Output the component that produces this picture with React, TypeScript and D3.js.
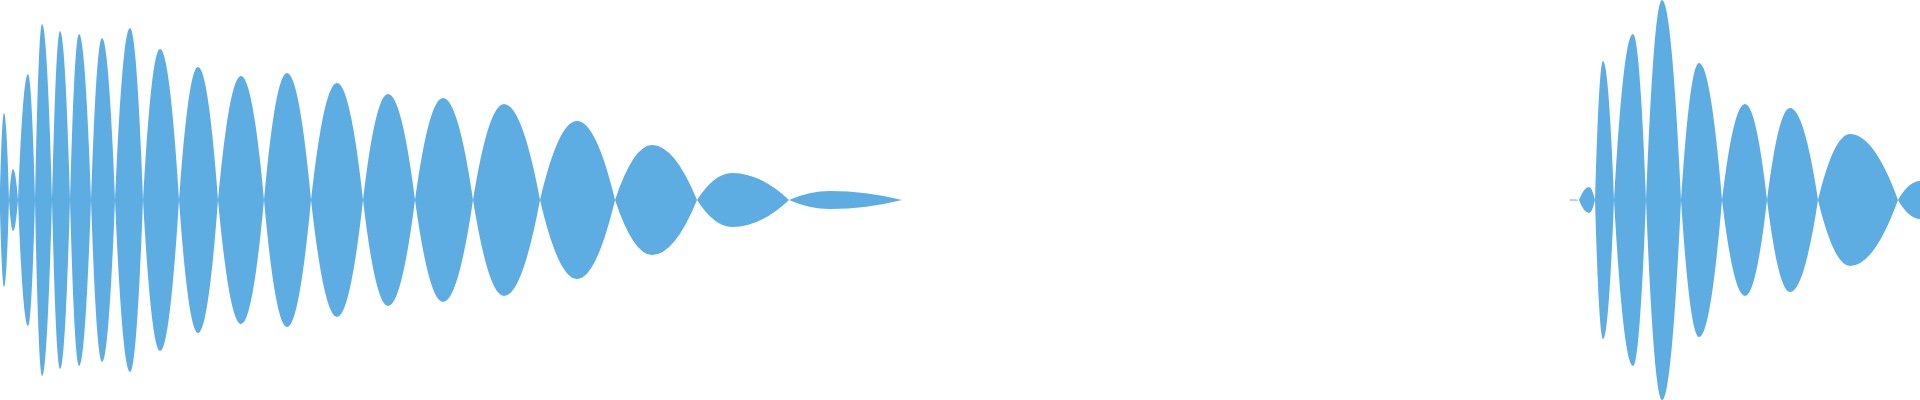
import { useMemo } from "react";
import * as d3 from "d3";

// Mirrored waveform: a signed signal drawn as an area from -v to +v.
// Zero crossings and peaks are read off the reference. Between two samples we draw a
// parabola whose vertex sits on the sample farther from the baseline — that gives the
// round-topped, sharp-crossing lobes of the original.

const WIDTH = 1920;
const HEIGHT = 400;
const FILL = "#5DADE2";

// first burst
const burstATime = [
  0, 4, 9, 13, 18, 28, 35, 42, 52, 60, 70, 79, 91, 102, 115, 130, 143, 160, 179, 198, 218,
  241, 264, 287, 311, 337, 363, 388, 415, 443, 473, 504, 540, 577, 615, 652, 697, 732, 789,
  830, 902,
];
const burstAValue = [
  12, 87, 0, -31, 0, 126, 0, -176, 0, 169, 0, -166, 0, 162, 0, -172, 0, 151, 0, -133, 0,
  124, 0, -127, 0, 117, 0, -106, 0, 102, 0, -96, 0, 79, 0, -55, 0, 27, 0, -9, 0,
];

// second burst (runs off the right edge)
const burstBTime = [
  1570, 1575, 1579, 1589, 1595, 1603, 1614, 1633, 1646, 1662, 1681, 1699, 1722, 1745, 1767,
  1790, 1818, 1850, 1898, 1920,
];
const burstBValue = [
  -0.6, -0.6, 0, 13, 0, -139, 0, 166, 0, -200, 0, 137, 0, -96, 0, 92, 0, -66, 0, 19,
];

type Pt = { t: number; v: number };

// d3 curve factory: quadratic segments, control point at mid-x and at the level of
// whichever end is farther from the baseline.
function curvePeak(base: number) {
  return (context: d3.Path) => {
    let line = NaN;
    let point = 0;
    let px = 0;
    let py = 0;
    return {
      areaStart() {
        line = 0;
      },
      areaEnd() {
        line = NaN;
      },
      lineStart() {
        point = 0;
      },
      lineEnd() {
        if (line || (line !== 0 && point === 1)) context.closePath();
        line = 1 - line;
      },
      point(x: number, y: number) {
        if (point === 0) {
          point = 1;
          if (line) context.lineTo(x, y);
          else context.moveTo(x, y);
        } else {
          const cy = Math.abs(py - base) > Math.abs(y - base) ? py : y;
          context.quadraticCurveTo((px + x) / 2, cy, x, y);
        }
        px = x;
        py = y;
      },
    };
  };
}

export default function App() {
  const d = useMemo(() => {
    const x = d3.scaleLinear().domain([0, 1920]).range([0, WIDTH]);
    const y = d3.scaleLinear().domain([-200, 200]).range([HEIGHT, 0]);
    const area = d3
      .area<Pt>()
      .x((p) => x(p.t))
      .y0((p) => y(-p.v))
      .y1((p) => y(p.v))
      .curve(curvePeak(y(0)) as unknown as d3.CurveFactory);
    const toPts = (ts: number[], vs: number[]) => ts.map((t, i) => ({ t, v: vs[i] }));
    return (
      (area(toPts(burstATime, burstAValue)) ?? "") +
      (area(toPts(burstBTime, burstBValue)) ?? "")
    );
  }, []);

  return (
    <svg
      width={WIDTH}
      height={HEIGHT}
      viewBox={`0 0 ${WIDTH} ${HEIGHT}`}
      style={{ position: "absolute", left: 0, top: 0, display: "block", background: "#fff" }}
    >
      <path d={d} fill={FILL} />
    </svg>
  );
}
